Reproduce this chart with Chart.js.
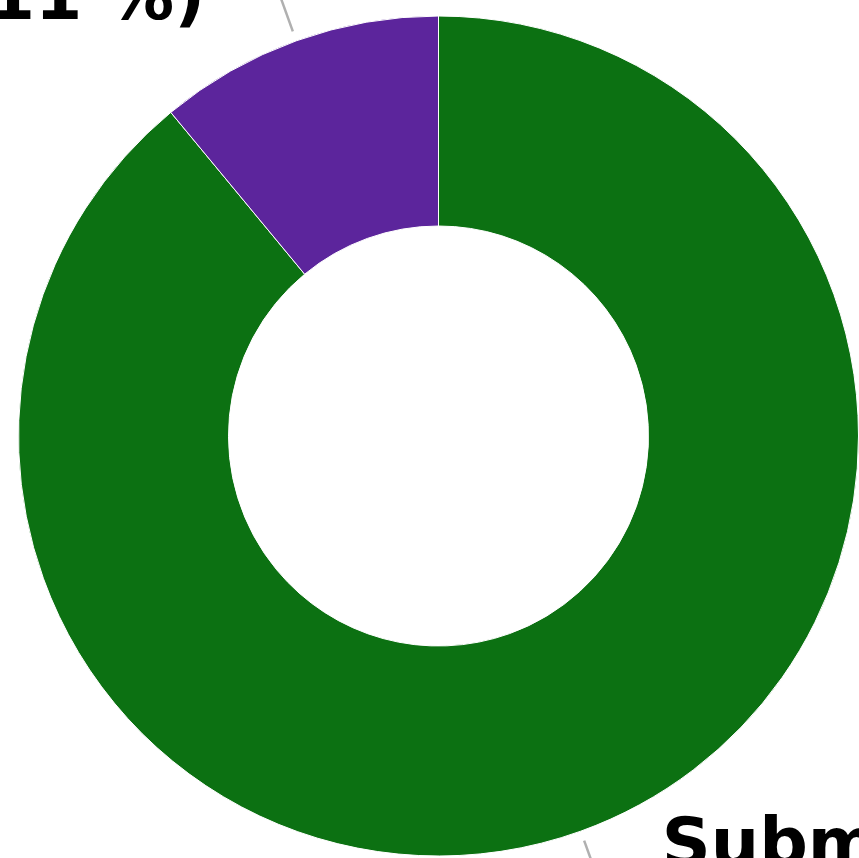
<!DOCTYPE html>
<html>
<head>
<meta charset="utf-8">
<script src="https://cdn.jsdelivr.net/npm/chart.js@4/dist/chart.umd.min.js"></script>
<style>
  html, body { margin: 0; padding: 0; background: #fff; overflow: hidden; }
  #wrap { width: 859px; height: 858px; position: relative; }
</style>
</head>
<body>
<div id="wrap"><canvas id="chart" width="859" height="858"></canvas></div>
<script>
const labels = ["Submitted", "Not Submitted"];
const values = [89, 11];
const colors = ["#0c7112", "#5c259c"];

// draws the outside labels with a short grey leader line
const outsideLabels = {
  id: 'outsideLabels',
  afterDatasetsDraw(chart){
    const ctx = chart.ctx;
    const meta = chart.getDatasetMeta(0);
    const total = values.reduce((a, b) => a + b, 0);
    ctx.save();
    meta.data.forEach((arc, i) => {
      const p = arc.getProps(['x', 'y', 'startAngle', 'endAngle', 'outerRadius'], true);
      const mid = (p.startAngle + p.endAngle) / 2;
      const cos = Math.cos(mid), sin = Math.sin(mid);
      const r = p.outerRadius;
      ctx.strokeStyle = '#b0b0b0';
      ctx.lineWidth = 2.5;
      ctx.beginPath();
      ctx.moveTo(p.x + cos * (r + 10), p.y + sin * (r + 10));
      ctx.lineTo(p.x + cos * (r + 60), p.y + sin * (r + 60));
      ctx.stroke();

      const right = cos >= 0;
      const ex = p.x + cos * r, ey = p.y + sin * r;
      const pct = Math.round(values[i] / total * 100);
      ctx.fillStyle = '#000';
      ctx.font = 'bold 68px "DejaVu Sans"';
      ctx.textBaseline = 'alphabetic';
      ctx.textAlign = right ? 'left' : 'right';
      const tx = right ? ex + 81 : ex - 91;
      const ty = right ? ey + 35 : ey - 22;
      ctx.fillText(`${labels[i]} (${pct} %)`, tx, ty);
    });
    ctx.restore();
  }
};

new Chart(document.getElementById('chart'), {
  type: 'doughnut',
  data: {
    labels,
    datasets: [{
      data: values,
      backgroundColor: colors,
      borderColor: '#ffffff',
      borderWidth: 1,
      hoverOffset: 0
    }]
  },
  options: {
    responsive: false,
    animation: false,
    cutout: '50%',
    layout: { padding: { left: 18, top: 14, right: -2, bottom: -1 } },
    plugins: {
      legend: { display: false },
      tooltip: { enabled: false }
    }
  },
  plugins: [outsideLabels]
});
</script>
</body>
</html>
